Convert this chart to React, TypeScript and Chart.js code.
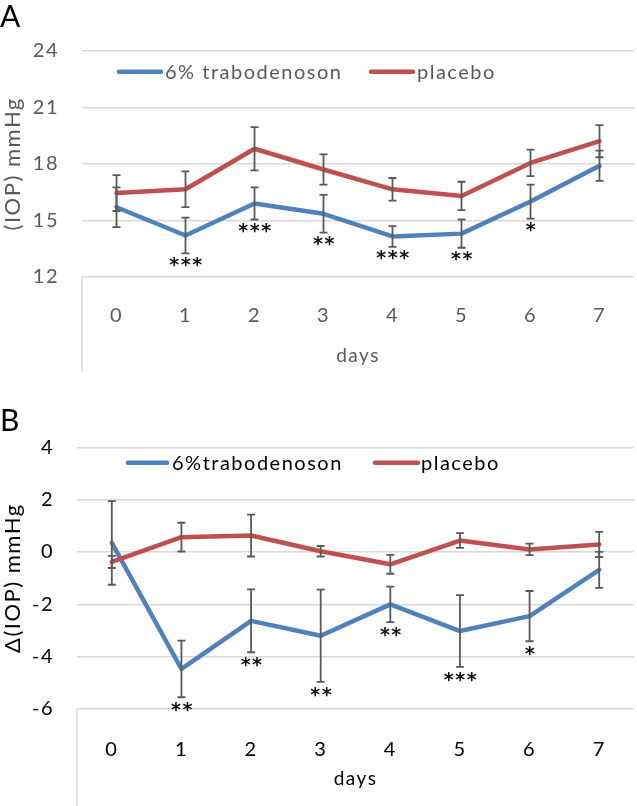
import React, { useEffect, useRef } from 'react';
import { Chart, registerables } from 'chart.js';

Chart.register(...registerables);

// ---------- data ----------
const days = ['0', '1', '2', '3', '4', '5', '6', '7'];

const namesA = ['6% trabodenoson', 'placebo'];
const iopTrabo = [15.7, 14.2, 15.9, 15.35, 14.15, 14.3, 16.0, 17.9];
const iopTraboErr = [1.05, 0.95, 0.85, 1.0, 0.55, 0.75, 0.9, 0.8];
const iopPlacebo = [16.45, 16.65, 18.8, 17.7, 16.65, 16.3, 18.05, 19.2];
const iopPlaceboErr = [0.95, 0.95, 1.15, 0.8, 0.6, 0.75, 0.7, 0.85];
const iopStars = ['', '***', '***', '**', '***', '**', '*', ''];
const iopTicks = [12, 15, 18, 21, 24];

const namesB = ['6%trabodenoson', 'placebo'];
const dTrabo = [0.35, -4.47, -2.63, -3.2, -2.0, -3.02, -2.45, -0.68];
const dTraboErr = [1.6, 1.08, 1.2, 1.76, 0.68, 1.37, 0.96, 0.69];
const dPlacebo = [-0.38, 0.57, 0.63, 0.03, -0.47, 0.44, 0.1, 0.29];
const dPlaceboErr = [0.23, 0.55, 0.8, 0.2, 0.36, 0.28, 0.22, 0.48];
const dStars = ['', '**', '**', '**', '**', '***', '*', ''];
const dTicks = [-6, -4, -2, 0, 2, 4];

// ---------- styles ----------
const BLUE = '#4F81BD';
const RED = '#C0504D';
const GRID = '#D9D9D9';
const ERR = '#595959';
const FONT = "Lato, 'DejaVu Sans', sans-serif";
const W = 637;

type PanelProps = {
  height: number;
  tb: number[]; tbErr: number[]; pl: number[]; plErr: number[];
  stars: string[];
  names: string[];
  yTicks: number[];
  yTitle: string;
  color: string;
  titleColor: string;
  area: { left: number; right: number; top: number; bottom: number };
  tickPadX: number;
  titlePadX: number;
  titlePadY: number;
  legendY: number;
  legend: { x1: number; x2: number; tx: number }[];
  boxBottom: number;
  starOffset: number;
};

function Panel(p: PanelProps) {
  const ref = useRef<HTMLCanvasElement>(null);
  useEffect(() => {
    const errs = [p.tbErr, p.plErr];
    const colors = [BLUE, RED];
    const decor = {
      id: 'decor',
      beforeDraw(chart: any) {
        (chart.ctx as any).letterSpacing = '1.5px';
      },
      afterDraw(chart: any) {
        (chart.ctx as any).letterSpacing = '0px';
      },
      afterDatasetsDraw(chart: any) {
        const ctx = chart.ctx as CanvasRenderingContext2D;
        const ys = chart.scales.y;
        const area = chart.chartArea;
        ctx.save();
        // category axis box (left edge)
        ctx.strokeStyle = GRID;
        ctx.lineWidth = 1.5;
        ctx.beginPath();
        ctx.moveTo(area.left, area.bottom);
        ctx.lineTo(area.left, p.boxBottom);
        ctx.stroke();
        // error bars
        ctx.strokeStyle = ERR;
        ctx.lineWidth = 1.8;
        chart.data.datasets.forEach((ds: any, i: number) => {
          const meta = chart.getDatasetMeta(i);
          errs[i].forEach((e, j) => {
            const v = ds.data[j];
            const x = meta.data[j].x;
            const yt = ys.getPixelForValue(v + e);
            const yb = ys.getPixelForValue(v - e);
            ctx.beginPath();
            ctx.moveTo(x, yt); ctx.lineTo(x, yb);
            ctx.moveTo(x - 4, yt); ctx.lineTo(x + 4, yt);
            ctx.moveTo(x - 4, yb); ctx.lineTo(x + 4, yb);
            ctx.stroke();
          });
        });
        // significance stars under trabodenoson error bars
        ctx.fillStyle = '#111';
        ctx.font = "bold 19px 'DejaVu Sans', sans-serif";
        (ctx as any).letterSpacing = '1.5px';
        ctx.textAlign = 'center';
        ctx.textBaseline = 'alphabetic';
        const meta0 = chart.getDatasetMeta(0);
        p.stars.forEach((s, j) => {
          if (!s) return;
          const v = p.tb[j];
          const yb = ys.getPixelForValue(v - p.tbErr[j]);
          const m = ctx.measureText(s);
          const cy = yb + p.starOffset;
          const base = cy + (m.actualBoundingBoxAscent - m.actualBoundingBoxDescent) / 2;
          ctx.fillText(s, meta0.data[j].x + 1, base);
        });
        // legend
        (ctx as any).letterSpacing = '1.5px';
        ctx.font = `20px ${FONT}`;
        ctx.textAlign = 'left';
        ctx.textBaseline = 'middle';
        ctx.lineCap = 'round';
        p.legend.forEach((l, i) => {
          ctx.strokeStyle = colors[i];
          ctx.lineWidth = 4.5;
          ctx.beginPath();
          ctx.moveTo(l.x1, p.legendY);
          ctx.lineTo(l.x2, p.legendY);
          ctx.stroke();
          ctx.fillStyle = p.titleColor;
          ctx.fillText(chart.data.datasets[i].label, l.tx, p.legendY + 1);
        });
        ctx.restore();
      },
    };

    const chart = new Chart(ref.current as HTMLCanvasElement, {
      type: 'line',
      data: {
        labels: days,
        datasets: [
          {
            label: p.names[0], data: p.tb, borderColor: BLUE, backgroundColor: BLUE,
            borderWidth: 4.5, pointRadius: 0, tension: 0, order: 1,
            borderCapStyle: 'round', borderJoinStyle: 'round',
          },
          {
            label: p.names[1], data: p.pl, borderColor: RED, backgroundColor: RED,
            borderWidth: 4.5, pointRadius: 0, tension: 0, order: 0,
            borderCapStyle: 'round', borderJoinStyle: 'round',
          },
        ],
      },
      options: {
        responsive: false,
        animation: false,
        devicePixelRatio: 1,
        events: [],
        layout: { padding: { left: 0, right: W - p.area.right, top: p.area.top, bottom: 0 } },
        plugins: { legend: { display: false }, tooltip: { enabled: false } },
        scales: {
          x: {
            type: 'category',
            offset: true,
            grid: { display: false },
            border: { display: false },
            ticks: { color: p.color, font: { family: FONT, size: 20 }, padding: p.tickPadX, maxRotation: 0, autoSkip: false },
            title: {
              display: true, text: 'days', color: p.titleColor,
              font: { family: FONT, size: 19 }, padding: { top: 0, bottom: p.titlePadX },
            },
            afterFit: (s: any) => { s.height = p.height - p.area.bottom; },
          },
          y: {
            type: 'linear',
            min: p.yTicks[0],
            max: p.yTicks[p.yTicks.length - 1],
            afterBuildTicks: (s: any) => { s.ticks = p.yTicks.map((v) => ({ value: v })); },
            grid: { color: GRID, lineWidth: 1.5, drawTicks: false },
            border: { display: false },
            ticks: { color: p.color, font: { family: FONT, size: 20 }, padding: 23 },
            title: {
              display: true, text: p.yTitle, color: p.titleColor,
              font: { family: FONT, size: 22 }, padding: { top: p.titlePadY, bottom: 0 },
            },
            afterFit: (s: any) => { s.width = p.area.left; },
          },
        },
      } as any,
      plugins: [decor],
    });
    return () => chart.destroy();
  }, []);
  return <canvas ref={ref} width={W} height={p.height} style={{ display: 'block', width: W, height: p.height }} />;
}

export default function App() {
  const letter: React.CSSProperties = {
    position: 'absolute', left: 0, fontFamily: FONT, fontSize: 30, lineHeight: '30px', color: '#000',
  };
  return (
    <div style={{ position: 'absolute', left: 0, top: 0, width: W, height: 806, background: '#fff', overflow: 'hidden' }}>
      <div style={{ position: 'absolute', left: 0, top: 0 }}>
        <Panel
          height={380}
          tb={iopTrabo} tbErr={iopTraboErr} pl={iopPlacebo} plErr={iopPlaceboErr}
          stars={iopStars} names={namesA} yTicks={iopTicks} yTitle="(IOP) mmHg"
          color="#595959" titleColor="#595959"
          area={{ left: 82, right: 634, top: 50.7, bottom: 277 }}
          tickPadX={19} titlePadX={12.6} titlePadY={0}
          legendY={71.7}
          legend={[{ x1: 119, x2: 161, tx: 165 }, { x1: 371, x2: 413, tx: 417 }]}
          boxBottom={372}
          starOffset={8.5}
        />
      </div>
      <div style={{ position: 'absolute', left: 0, top: 380 }}>
        <Panel
          height={426}
          tb={dTrabo} tbErr={dTraboErr} pl={dPlacebo} plErr={dPlaceboErr}
          stars={dStars} names={namesB} yTicks={dTicks} yTitle="Δ(IOP) mmHg"
          color="#000" titleColor="#000"
          area={{ left: 77, right: 634, top: 67.4, bottom: 329 }}
          tickPadX={21} titlePadX={15.6} titlePadY={0}
          legendY={82.7}
          legend={[{ x1: 128, x2: 167, tx: 172 }, { x1: 375, x2: 418, tx: 421 }]}
          boxBottom={426}
          starOffset={10}
        />
      </div>
      <div style={{ ...letter, top: 0 }}>A</div>
      <div style={{ ...letter, top: 404 }}>B</div>
    </div>
  );
}
